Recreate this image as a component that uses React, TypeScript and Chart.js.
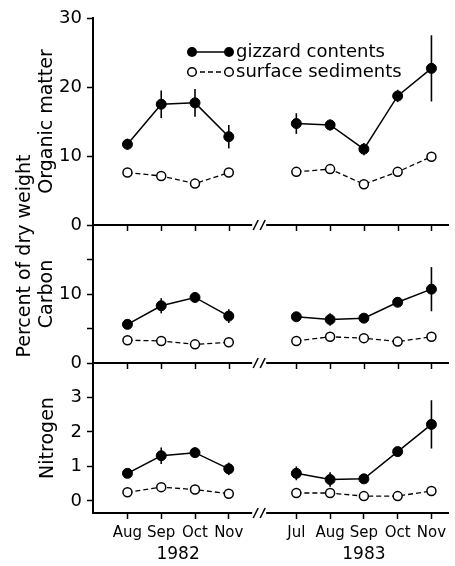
import React, { useEffect, useRef } from 'react';
import { Chart, registerables } from 'chart.js';

Chart.register(...registerables);

// ---------- data ----------
const months1982 = ['Aug', 'Sep', 'Oct', 'Nov'];
const months1983 = ['Jul', 'Aug', 'Sep', 'Oct', 'Nov'];
const yearLabels = ['1982', '1983'];
const seriesLabels = ['gizzard contents', 'surface sediments'];
const panelTitles = ['Organic matter', 'Carbon', 'Nitrogen'];
const sharedTitle = 'Percent of dry weight';

const organicTicks = [0, 5, 10, 15, 20, 25, 30];
const organicTickLabels = ['0', '', '10', '', '20', '', '30'];
const carbonTicks = [0, 5, 10, 15];
const carbonTickLabels = ['0', '', '10', ''];
const nitrogenTicks = [0, 1, 2, 3];
const nitrogenTickLabels = ['0', '1', '2', '3'];

const organicGizzard82 = [11.7, 17.5, 17.7, 12.8];
const organicGizzard83 = [14.7, 14.5, 11.0, 18.7, 22.7];
const organicGizzardErr82 = [0.8, 2.0, 2.0, 1.7];
const organicGizzardErr83 = [1.5, 0.8, 0.9, 0.9, 4.8];
const organicSediment82 = [7.6, 7.1, 6.0, 7.6];
const organicSediment83 = [7.7, 8.1, 5.9, 7.7, 9.9];

const carbonGizzard82 = [5.6, 8.3, 9.5, 6.8];
const carbonGizzard83 = [6.7, 6.3, 6.5, 8.8, 10.7];
const carbonGizzardErr82 = [0.4, 1.1, 0.7, 1.0];
const carbonGizzardErr83 = [0.4, 0.9, 0.3, 0.4, 3.2];
const carbonSediment82 = [3.3, 3.2, 2.7, 3.0];
const carbonSediment83 = [3.2, 3.8, 3.6, 3.1, 3.8];

const nitrogenGizzard82 = [0.8, 1.31, 1.4, 0.93];
const nitrogenGizzard83 = [0.8, 0.62, 0.64, 1.43, 2.22];
const nitrogenGizzardErr82 = [0.1, 0.24, 0.14, 0.18];
const nitrogenGizzardErr83 = [0.2, 0.21, 0.1, 0.1, 0.7];
const nitrogenSediment82 = [0.25, 0.4, 0.33, 0.21];
const nitrogenSediment83 = [0.23, 0.23, 0.14, 0.14, 0.29];

// ---------- helpers ----------
const GAP_INDEX = months1982.length; // empty slot between the two years
const xLabelsByIndex = [...months1982, '', ...months1983];
const xTickValues = xLabelsByIndex.map((l, i) => (l ? i : -1)).filter((v) => v >= 0);

function points(v82: number[], v83: number[]) {
  return [
    ...v82.map((y, i) => ({ x: i, y })),
    { x: GAP_INDEX, y: null as any },
    ...v83.map((y, i) => ({ x: GAP_INDEX + 1 + i, y })),
  ];
}
function errs(e82: number[], e83: number[]) {
  return [...e82, null, ...e83];
}

const FONT = 'DejaVu Sans';

const panels = [
  {
    id: 'yTop', title: panelTitles[0], gizzard: points(organicGizzard82, organicGizzard83),
    err: errs(organicGizzardErr82, organicGizzardErr83), sediment: points(organicSediment82, organicSediment83),
  },
  {
    id: 'yMid', title: panelTitles[1], gizzard: points(carbonGizzard82, carbonGizzard83),
    err: errs(carbonGizzardErr82, carbonGizzardErr83), sediment: points(carbonSediment82, carbonSediment83),
  },
  {
    id: 'yBot', title: panelTitles[2], gizzard: points(nitrogenGizzard82, nitrogenGizzard83),
    err: errs(nitrogenGizzardErr82, nitrogenGizzardErr83), sediment: points(nitrogenSediment82, nitrogenSediment83),
  },
];

function yScale(weight: number, stackWeight: number, min: number, max: number, ticks: number[], labels: string[]) {
  return {
    type: 'linear' as const,
    position: 'left' as const,
    stack: 'panels',
    stackWeight,
    weight,
    min,
    max,
    afterBuildTicks: (s: any) => {
      s.ticks = ticks.map((v) => ({ value: v }));
    },
    afterFit: (s: any) => {
      s.width = 93;
    },
    ticks: {
      color: '#000',
      font: { family: FONT, size: 18 },
      padding: 5,
      callback: (v: any) => {
        const i = ticks.indexOf(Number(v));
        return i >= 0 ? labels[i] : '';
      },
    },
    grid: { drawOnChartArea: false, drawTicks: true, tickLength: 6, tickColor: '#000', tickWidth: 1.5 },
    border: { display: true, color: '#000', width: 2 },
  };
}

const decorPlugin = {
  id: 'decor',
  beforeDatasetsDraw(chart: any) {
    const ctx = chart.ctx;
    const xs = chart.scales.x;
    ctx.save();
    ctx.strokeStyle = '#000';
    ctx.lineWidth = 1.6;
    panels.forEach((p) => {
      const ys = chart.scales[p.id];
      p.gizzard.forEach((pt, i) => {
        const e = p.err[i];
        if (pt.y == null || e == null) return;
        const px = xs.getPixelForValue(pt.x);
        ctx.beginPath();
        ctx.moveTo(px, ys.getPixelForValue(pt.y - e));
        ctx.lineTo(px, ys.getPixelForValue(pt.y + e));
        ctx.stroke();
      });
    });
    ctx.restore();
  },
  afterDraw(chart: any) {
    const ctx = chart.ctx;
    const xs = chart.scales.x;
    const area = chart.chartArea;
    ctx.save();
    ctx.strokeStyle = '#000';
    ctx.fillStyle = '#000';

    // horizontal axes with break marks
    const bx = xs.getPixelForValue(GAP_INDEX - 0.1);
    panels.forEach((p, idx) => {
      const y = chart.scales[p.id].bottom;
      ctx.lineWidth = 2;
      ctx.beginPath();
      ctx.moveTo(area.left, y);
      ctx.lineTo(bx - 7, y);
      ctx.moveTo(bx + 7, y);
      ctx.lineTo(area.right, y);
      ctx.stroke();
      ctx.lineWidth = 1.5;
      [-3.5, 3.5].forEach((d) => {
        ctx.beginPath();
        ctx.moveTo(bx + d - 2.5, y + 5);
        ctx.lineTo(bx + d + 2.5, y - 5);
        ctx.stroke();
      });
      if (idx < panels.length - 1) {
        xTickValues.forEach((v) => {
          const px = Math.round(xs.getPixelForValue(v)) + 0.5;
          ctx.beginPath();
          ctx.moveTo(px, y);
          ctx.lineTo(px, y + 6);
          ctx.stroke();
        });
      }
    });

    // axis titles
    ctx.textAlign = 'center';
    ctx.textBaseline = 'middle';
    ctx.font = `19px "${FONT}"`;
    const titleX = [47, 47, 48];
    panels.forEach((p, idx) => {
      const s = chart.scales[p.id];
      ctx.save();
      ctx.translate(titleX[idx], (s.top + s.bottom) / 2);
      ctx.rotate(-Math.PI / 2);
      ctx.fillText(p.title, 0, 0);
      ctx.restore();
    });
    ctx.save();
    ctx.translate(25, 256);
    ctx.rotate(-Math.PI / 2);
    ctx.fillText(sharedTitle, 0, 0);
    ctx.restore();

    // year labels
    ctx.font = `17px "${FONT}"`;
    const c82 = (0 + months1982.length - 1) / 2;
    const c83 = GAP_INDEX + 1 + (months1983.length - 1) / 2;
    ctx.fillText(yearLabels[0], xs.getPixelForValue(c82), 555);
    ctx.fillText(yearLabels[1], xs.getPixelForValue(c83), 555);

    // legend
    const lx1 = 192, lx2 = 229, ly1 = 52, ly2 = 72;
    ctx.lineWidth = 1.5;
    ctx.beginPath();
    ctx.moveTo(lx1, ly1);
    ctx.lineTo(lx2, ly1);
    ctx.stroke();
    [lx1, lx2].forEach((x) => {
      ctx.beginPath();
      ctx.arc(x, ly1, 5, 0, Math.PI * 2);
      ctx.fill();
    });
    ctx.setLineDash([5, 3]);
    ctx.lineWidth = 1.3;
    ctx.beginPath();
    ctx.moveTo(lx1, ly2);
    ctx.lineTo(lx2, ly2);
    ctx.stroke();
    ctx.setLineDash([]);
    ctx.lineWidth = 1.5;
    [lx1, lx2].forEach((x) => {
      ctx.beginPath();
      ctx.arc(x, ly2, 4.3, 0, Math.PI * 2);
      ctx.fillStyle = '#fff';
      ctx.fill();
      ctx.stroke();
    });
    ctx.fillStyle = '#000';
    ctx.textAlign = 'left';
    ctx.font = `18px "${FONT}"`;
    ctx.fillText(seriesLabels[0], 236, ly1);
    ctx.fillText(seriesLabels[1], 236, ly2);

    ctx.restore();
  },
};

export default function App() {
  const ref = useRef<HTMLCanvasElement>(null);
  useEffect(() => {
    const datasets: any[] = [];
    panels.forEach((p) => {
      datasets.push({
        label: seriesLabels[0],
        data: p.gizzard,
        yAxisID: p.id,
        borderColor: '#000',
        backgroundColor: '#000',
        borderWidth: 1.5,
        pointRadius: 5,
        pointBackgroundColor: '#000',
        pointBorderColor: '#000',
        pointBorderWidth: 1,
        tension: 0,
        spanGaps: false,
      });
      datasets.push({
        label: seriesLabels[1],
        data: p.sediment,
        yAxisID: p.id,
        borderColor: '#000',
        backgroundColor: '#fff',
        borderWidth: 1.3,
        borderDash: [5, 3],
        pointRadius: 4.5,
        pointBackgroundColor: '#fff',
        pointBorderColor: '#000',
        pointBorderWidth: 1.5,
        tension: 0,
        spanGaps: false,
      });
    });
    const chart = new Chart(ref.current as HTMLCanvasElement, {
      type: 'line',
      data: { datasets },
      plugins: [decorPlugin],
      options: {
        responsive: false,
        animation: false,
        layout: { padding: { top: 18, left: 0, right: 0, bottom: 0 } },
        plugins: { legend: { display: false }, tooltip: { enabled: false } },
        scales: {
          x: {
            type: 'linear',
            position: 'bottom',
            min: -1.02,
            max: 9.52,
            afterBuildTicks: (s: any) => {
              s.ticks = xTickValues.map((v) => ({ value: v }));
            },
            afterFit: (s: any) => {
              s.height = 53;
            },
            ticks: {
              color: '#000',
              font: { family: FONT, size: 15 },
              padding: 5,
              maxRotation: 0,
              autoSkip: false,
              callback: (v: any) => xLabelsByIndex[Number(v)] ?? '',
            },
            grid: { drawOnChartArea: false, drawTicks: true, tickLength: 6, tickColor: '#000', tickWidth: 1.5 },
            border: { display: false },
          },
          yTop: yScale(3, 207, 0, 30, organicTicks, organicTickLabels),
          yMid: yScale(2, 138, 0, 20, carbonTicks, carbonTickLabels),
          yBot: yScale(1, 150, -0.35, 4, nitrogenTicks, nitrogenTickLabels),
        } as any,
      },
    } as any);
    return () => chart.destroy();
  }, []);
  return (
    <div style={{ position: 'absolute', left: 0, top: 0, width: 455, height: 566, background: '#fff' }}>
      <canvas ref={ref} width={455} height={566} style={{ display: 'block', width: 455, height: 566 }} />
    </div>
  );
}
